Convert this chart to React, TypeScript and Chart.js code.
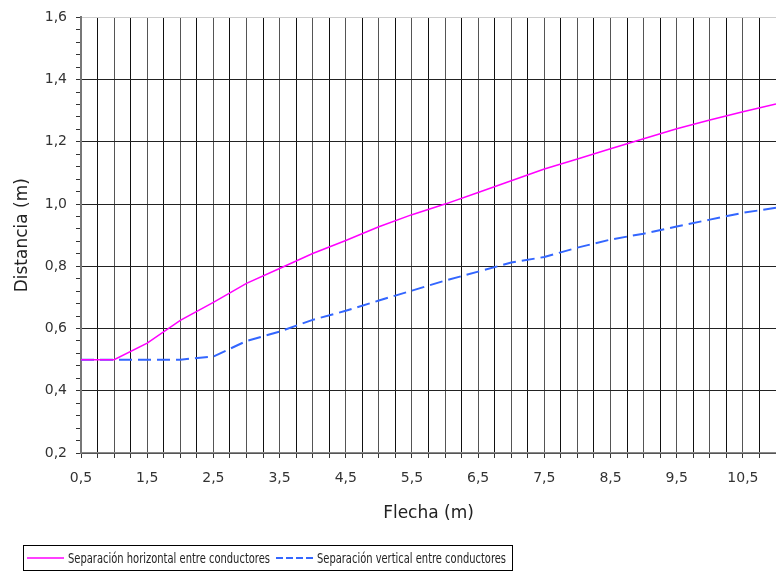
import React, { useEffect, useRef } from "react";
import { Chart, registerables } from "chart.js";

Chart.register(...registerables);

const flecha = [0.5, 1, 1.5, 2, 2.5, 3, 3.5, 4, 4.5, 5, 5.5, 6, 6.5, 7, 7.5, 8, 8.5, 9, 9.5, 10, 10.5, 11];
const sepHorizontal = [0.5, 0.5, 0.553, 0.626, 0.684, 0.745, 0.793, 0.841, 0.883, 0.927, 0.966, 1.0, 1.037, 1.075, 1.113, 1.145, 1.178, 1.21, 1.242, 1.27, 1.297, 1.322];
const sepVertical = [0.5, 0.5, 0.5, 0.5, 0.51, 0.56, 0.59, 0.628, 0.657, 0.69, 0.722, 0.754, 0.783, 0.812, 0.83, 0.86, 0.886, 0.905, 0.928, 0.95, 0.972, 0.988];
const seriesNames = ["Separación horizontal entre conductores", "Separación vertical entre conductores"];
const xTitle = "Flecha (m)";
const yTitle = "Distancia (m)";

const fmt = (v: number) => v.toFixed(1).replace(".", ",");

const legendPlugin = {
  id: "boxLegend",
  afterDraw(chart: any) {
    const ctx = chart.ctx;
    ctx.save();
    ctx.strokeStyle = "#000";
    ctx.lineWidth = 1;
    ctx.strokeRect(23.5, 545.5, 489, 25);
    const y = 558;
    ctx.font = "14px 'DejaVu Sans Condensed', 'DejaVu Sans', sans-serif";
    ctx.textBaseline = "middle";
    ctx.fillStyle = "#222";
    ctx.strokeStyle = "#ff00ff";
    ctx.lineWidth = 1.5;
    ctx.beginPath();
    ctx.moveTo(27, y);
    ctx.lineTo(64, y);
    ctx.stroke();
    ctx.fillText(seriesNames[0], 68, y + 1, 202);
    ctx.strokeStyle = "#3366ff";
    ctx.lineWidth = 2;
    ctx.setLineDash([7, 3]);
    ctx.beginPath();
    ctx.moveTo(276, y);
    ctx.lineTo(313, y);
    ctx.stroke();
    ctx.setLineDash([]);
    ctx.fillText(seriesNames[1], 317, y + 1, 189);
    ctx.restore();
  },
};

export default function App() {
  const ref = useRef<HTMLCanvasElement | null>(null);
  useEffect(() => {
    if (!ref.current) return;
    const chart = new Chart(ref.current, {
      type: "line",
      data: {
        datasets: [
          {
            label: seriesNames[0],
            data: flecha.map((x, i) => ({ x, y: sepHorizontal[i] })),
            borderColor: "#ff00ff",
            borderWidth: 1.5,
            pointRadius: 0,
            tension: 0,
          },
          {
            label: seriesNames[1],
            data: flecha.map((x, i) => ({ x, y: sepVertical[i] })),
            borderColor: "#3366ff",
            borderWidth: 2,
            borderDash: [13, 6],
            pointRadius: 0,
            tension: 0,
          },
        ],
      },
      options: {
        animation: false,
        responsive: false,
        devicePixelRatio: 1,
        layout: { padding: { top: 16, right: 0, left: 0, bottom: 37 } },
        plugins: { legend: { display: false }, tooltip: { enabled: false } },
        scales: {
          x: {
            type: "linear",
            min: 0.5,
            max: 11,
            afterFit(scale: any) {
              scale.height = 82;
              scale.paddingRight = 0;
              scale.paddingLeft = 0;
            },
            ticks: {
              stepSize: 0.25,
              autoSkip: false,
              maxRotation: 0,
              padding: 12,
              color: "#333",
              font: { family: "'DejaVu Sans'", size: 14 },
              callback: (v: any) => {
                const n = Number(v);
                const r = n - 0.5;
                return Math.abs(r - Math.round(r)) < 1e-6 && n < 10.9 ? fmt(n) : "";
              },
            },
            grid: {
              color: (c: any) => (c.index % 2 === 1 ? "#111" : "#555"),
              lineWidth: 1,
              tickLength: 5,
              tickColor: "#333",
            },
            border: { color: "#888", width: 1.5 },
            title: {
              display: true,
              text: xTitle,
              color: "#222",
              font: { family: "'DejaVu Sans'", size: 17 },
              padding: { top: 0, bottom: 11 },
            },
          },
          y: {
            type: "linear",
            min: 0.2,
            max: 1.6,
            afterFit(scale: any) {
              scale.width = 81;
            },
            ticks: {
              stepSize: 0.04,
              autoSkip: false,
              padding: 9,
              color: "#333",
              font: { family: "'DejaVu Sans'", size: 14 },
              callback: (v: any) => {
                const n = Number(v) * 5;
                return Math.abs(n - Math.round(n)) < 1e-6 ? fmt(Number(v)) : "";
              },
            },
            grid: {
              color: (c: any) => {
                const v = c.tick ? c.tick.value : 0;
                const n = v * 5;
                if (Math.abs(n - Math.round(n)) > 1e-6) return "rgba(0,0,0,0)";
                if (v > 1.59) return "#ccc";
                return "#222";
              },
              lineWidth: 1,
              tickLength: 5,
              tickColor: "#333",
            },
            border: { color: "#777", width: 2 },
            title: {
              display: true,
              text: yTitle,
              color: "#222",
              font: { family: "'DejaVu Sans'", size: 17 },
              padding: { top: 12, bottom: 0 },
            },
          },
        },
      },
      plugins: [legendPlugin],
    } as any);
    return () => chart.destroy();
  }, []);
  return (
    <div style={{ position: "absolute", left: 0, top: 0, width: 776, height: 572, background: "#fff" }}>
      <canvas ref={ref} width={776} height={572} />
    </div>
  );
}
